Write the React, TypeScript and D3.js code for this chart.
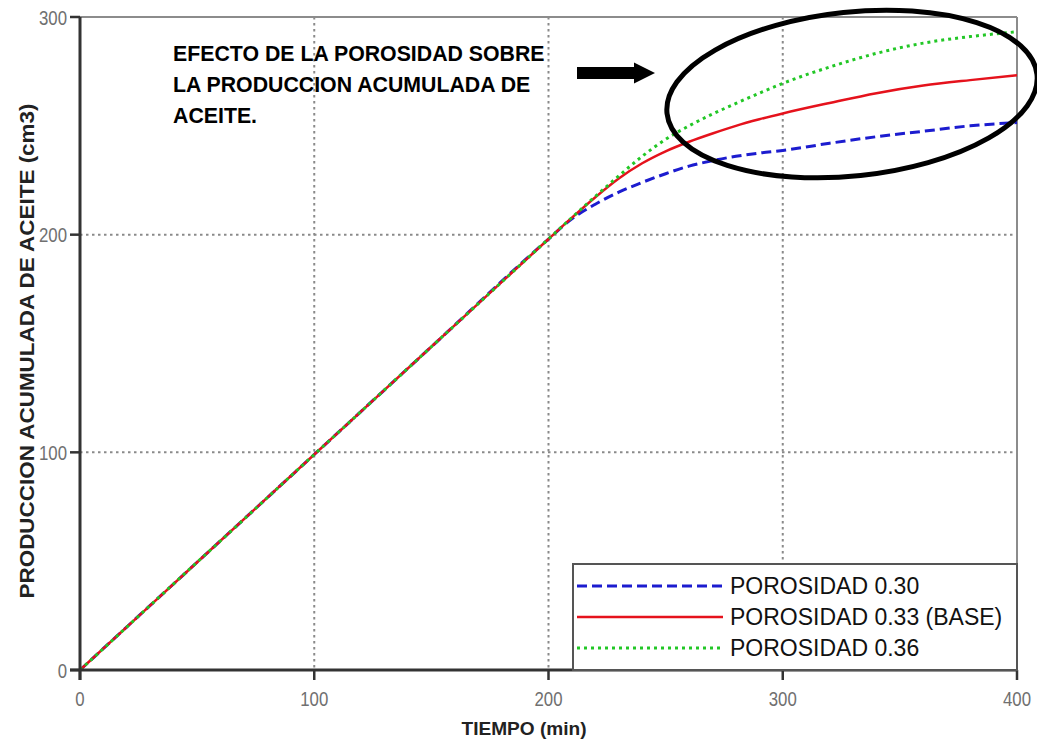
import React from "react";
import * as d3 from "d3";

// Tiempo (min) y producción acumulada de aceite (cm3) para cada porosidad
const tiempo = [0, 50, 100, 150, 200, 210, 220, 230, 240, 250, 260, 270, 280, 290, 300, 320, 340, 360, 380, 400];
const porosidad030 = [0, 49.5, 99, 148.5, 198, 207.3, 214, 219.5, 224, 228, 231.5, 234, 236, 237.5, 238.7, 242, 245, 247.5, 250, 251.5];
const porosidad033 = [0, 49.5, 99, 148.5, 198, 207.8, 217.2, 225.8, 232.8, 238.3, 242.7, 246.5, 250, 253, 255.7, 260.5, 265, 268.5, 271, 273.2];
const porosidad036 = [0, 49.5, 99, 148.5, 198, 207.9, 217.6, 227, 236, 243.8, 250, 255.4, 260.3, 265, 269.5, 277, 283.3, 288, 291, 293.2];

const xTicks = [0, 100, 200, 300, 400];
const yTicks = [0, 100, 200, 300];

const series = [
  { name: "POROSIDAD 0.30", values: porosidad030, color: "#1c1ccf", width: 3, dash: "10,5" },
  { name: "POROSIDAD 0.33 (BASE)", values: porosidad033, color: "#e5121c", width: 2.5, dash: null },
  { name: "POROSIDAD 0.36", values: porosidad036, color: "#22c726", width: 3, dash: "3,4" },
];

const annotationLines = [
  "EFECTO DE LA POROSIDAD SOBRE",
  "LA PRODUCCION ACUMULADA DE",
  "ACEITE.",
];

const W = 1037;
const H = 740;
const M = { left: 80, right: 1017, top: 17, bottom: 670 };
const mainFont = "'Liberation Sans', Arial, sans-serif";

// narrow grey tick label, squeezed horizontally
function TickLabel({ x, y, anchor, children }: { x: number; y: number; anchor: string; children: React.ReactNode }) {
  return (
    <text
      transform={`translate(${x},${y}) scale(0.8,1)`}
      textAnchor={anchor}
      fontFamily={mainFont}
      fontSize={21}
      fill="#707070"
    >
      {children}
    </text>
  );
}

export default function App() {
  const x = d3.scaleLinear().domain([0, 400]).range([M.left, M.right]);
  const y = d3.scaleLinear().domain([0, 300]).range([M.bottom, M.top]);

  const line = d3
    .line<number>()
    .x((_, i) => x(tiempo[i]))
    .y((d) => y(d))
    .curve(d3.curveMonotoneX);

  const legend = { x0: 573, y0: 564, x1: M.right, y1: M.bottom };
  const legendRows = [586, 617, 648];

  return (
    <svg
      width={W}
      height={H}
      style={{ position: "absolute", left: 0, top: 0, background: "#fff" }}
      xmlns="http://www.w3.org/2000/svg"
    >
      <rect x={0} y={0} width={W} height={H} fill="#fff" />

      {/* grid */}
      <g stroke="#8a8a8a" strokeWidth={2} strokeDasharray="2.5,3.5">
        {xTicks.filter((t) => t > 0 && t < 400).map((t) => (
          <line key={"gx" + t} x1={x(t)} x2={x(t)} y1={M.top} y2={M.bottom} />
        ))}
        {yTicks.filter((t) => t > 0 && t < 300).map((t) => (
          <line key={"gy" + t} x1={M.left} x2={M.right} y1={y(t)} y2={y(t)} />
        ))}
      </g>

      {/* frame: top and right in light grey */}
      <line x1={M.left} x2={M.right} y1={M.top} y2={M.top} stroke="#8c8c8c" strokeWidth={2} />
      <line x1={M.right} x2={M.right} y1={M.top} y2={M.bottom} stroke="#8c8c8c" strokeWidth={2} />

      {/* series */}
      {series.map((s) => (
        <path
          key={s.name}
          d={line(s.values) || ""}
          fill="none"
          stroke={s.color}
          strokeWidth={s.width}
          strokeDasharray={s.dash || undefined}
        />
      ))}

      {/* axes */}
      <line x1={M.left} x2={M.left} y1={M.top} y2={M.bottom + 10} stroke="#333" strokeWidth={3} />
      <line x1={M.left - 10} x2={M.right} y1={M.bottom} y2={M.bottom} stroke="#333" strokeWidth={3} />
      {yTicks.map((t) => (
        <g key={"yt" + t}>
          <line x1={M.left - 10} x2={M.left} y1={y(t)} y2={y(t)} stroke="#333" strokeWidth={2.5} />
          <TickLabel x={M.left - 13} y={y(t) + 7.5} anchor="end">
            {t}
          </TickLabel>
        </g>
      ))}
      {xTicks.map((t) => (
        <g key={"xt" + t}>
          <line x1={x(t)} x2={x(t)} y1={M.bottom} y2={M.bottom + 10} stroke="#333" strokeWidth={2.5} />
          <TickLabel x={x(t)} y={706} anchor="middle">
            {t}
          </TickLabel>
        </g>
      ))}

      {/* axis titles */}
      <text
        x={524}
        y={735}
        textAnchor="middle"
        fontFamily={mainFont}
        fontWeight="bold"
        fontSize={19}
        fill="#222"
        textLength={125}
        lengthAdjust="spacingAndGlyphs"
      >
        TIEMPO (min)
      </text>
      <text
        transform="translate(34,351) rotate(-90)"
        textAnchor="middle"
        fontFamily={mainFont}
        fontWeight="bold"
        fontSize={20}
        fill="#222"
        textLength={495}
        lengthAdjust="spacingAndGlyphs"
      >
        PRODUCCION ACUMULADA DE ACEITE (cm3)
      </text>

      {/* legend */}
      <rect
        x={legend.x0}
        y={legend.y0}
        width={legend.x1 - legend.x0}
        height={legend.y1 - legend.y0}
        fill="#fff"
        stroke="#555"
        strokeWidth={2}
      />
      {series.map((s, i) => (
        <g key={"lg" + s.name}>
          <line
            x1={577}
            x2={723}
            y1={legendRows[i]}
            y2={legendRows[i]}
            stroke={s.color}
            strokeWidth={s.width}
            strokeDasharray={s.dash || undefined}
          />
          <text
            x={730}
            y={legendRows[i]}
            dy="0.36em"
            fontFamily={mainFont}
            fontSize={23}
            fill="#111"
          >
            {s.name}
          </text>
        </g>
      ))}

      {/* annotation */}
      {annotationLines.map((l, i) => (
        <text
          key={"an" + i}
          x={173}
          y={61 + i * 31}
          fontFamily={mainFont}
          fontWeight="bold"
          fontSize={21.3}
          fill="#000"
        >
          {l}
        </text>
      ))}
      <path d="M577,67 L634,67 L634,62.5 L655,73 L634,83.5 L634,79 L577,79 Z" fill="#000" />
      <ellipse
        cx={852}
        cy={94}
        rx={186}
        ry={82}
        transform="rotate(-6 852 94)"
        fill="none"
        stroke="#000"
        strokeWidth={5}
      />
    </svg>
  );
}
